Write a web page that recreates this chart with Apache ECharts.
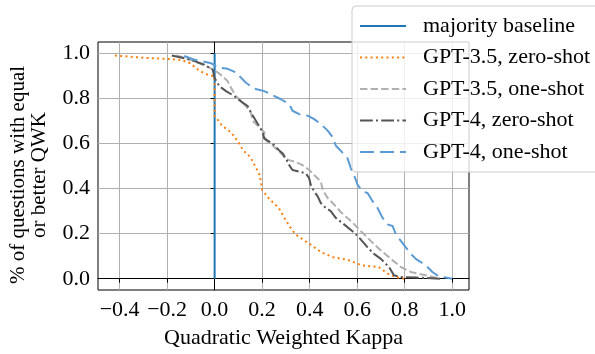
<!DOCTYPE html>
<html>
<head>
<meta charset="utf-8">
<script src="https://cdn.jsdelivr.net/npm/echarts@6/dist/echarts.min.js"></script>
<style>
    html, body {margin: 0; padding: 0; background: #fff;}
    #chart1 {width: 595px; height: 354px;}
</style>
</head>
<body>
<div id="chart1"></div>
<script>
    // x ticks / y ticks
    var xTicks = [-0.4, -0.2, 0.0, 0.2, 0.4, 0.6, 0.8, 1.0];
    var yTicks = [0.0, 0.2, 0.4, 0.6, 0.8, 1.0];

    // majority baseline (vertical line at kappa = 0)
    var baseX = [0, 0];
    var baseY = [0, 1];

    // GPT-3.5, zero-shot
    var gpt35ZeroX = [-0.42, -0.3, -0.2, -0.14, -0.1, -0.08, -0.05, -0.03, 0.0, 0.0, 0.01, 0.03, 0.06, 0.08, 0.1, 0.12, 0.15, 0.17, 0.19, 0.2, 0.23, 0.27, 0.31, 0.34, 0.4, 0.45, 0.5, 0.56, 0.62, 0.69, 0.73, 0.76, 0.8];
    var gpt35ZeroY = [0.99, 0.98, 0.975, 0.97, 0.955, 0.935, 0.915, 0.905, 0.898, 0.72, 0.71, 0.68, 0.657, 0.635, 0.606, 0.569, 0.54, 0.5, 0.46, 0.394, 0.354, 0.314, 0.241, 0.197, 0.154, 0.117, 0.095, 0.084, 0.059, 0.052, 0.022, 0.008, 0.0];

    // GPT-3.5, one-shot
    var gpt35OneX = [-0.16, -0.1, -0.05, -0.01, 0.006, 0.034, 0.055, 0.069, 0.09, 0.125, 0.153, 0.16, 0.182, 0.209, 0.216, 0.245, 0.265, 0.285, 0.3, 0.314, 0.335, 0.37, 0.398, 0.419, 0.447, 0.455, 0.476, 0.503, 0.532, 0.574, 0.615, 0.657, 0.7, 0.742, 0.784, 0.826, 0.868, 0.91, 0.95];
    var gpt35OneY = [0.99, 0.97, 0.95, 0.93, 0.92, 0.898, 0.876, 0.847, 0.81, 0.774, 0.737, 0.7, 0.679, 0.65, 0.613, 0.591, 0.57, 0.55, 0.53, 0.526, 0.52, 0.504, 0.482, 0.46, 0.431, 0.394, 0.358, 0.329, 0.295, 0.256, 0.212, 0.168, 0.125, 0.088, 0.052, 0.03, 0.02, 0.01, 0.0];

    // GPT-4, zero-shot
    var gpt4ZeroX = [-0.18, -0.1, -0.043, -0.008, 0.0, 0.02, 0.048, 0.083, 0.118, 0.139, 0.153, 0.182, 0.203, 0.209, 0.245, 0.272, 0.287, 0.3, 0.314, 0.328, 0.356, 0.384, 0.398, 0.405, 0.419, 0.434, 0.447, 0.468, 0.489, 0.51, 0.545, 0.587, 0.615, 0.644, 0.671, 0.7, 0.734, 0.755, 0.784, 0.85, 0.95];
    var gpt4ZeroY = [0.99, 0.971, 0.949, 0.927, 0.89, 0.854, 0.832, 0.81, 0.781, 0.766, 0.737, 0.686, 0.65, 0.621, 0.599, 0.569, 0.555, 0.533, 0.504, 0.482, 0.475, 0.467, 0.446, 0.416, 0.387, 0.365, 0.336, 0.314, 0.3, 0.27, 0.241, 0.205, 0.175, 0.139, 0.11, 0.088, 0.052, 0.015, 0.008, 0.005, 0.0];

    // GPT-4, one-shot
    var gpt4OneX = [-0.128, -0.085, -0.057, -0.015, 0.013, 0.055, 0.09, 0.132, 0.167, 0.209, 0.237, 0.279, 0.314, 0.328, 0.356, 0.392, 0.419, 0.447, 0.476, 0.497, 0.51, 0.53, 0.56, 0.574, 0.587, 0.602, 0.623, 0.644, 0.665, 0.686, 0.707, 0.728, 0.749, 0.763, 0.784, 0.805, 0.826, 0.847, 0.868, 0.896, 0.917, 0.938, 0.973, 1.0];
    var gpt4OneY = [0.988, 0.971, 0.966, 0.956, 0.937, 0.931, 0.915, 0.869, 0.843, 0.832, 0.818, 0.796, 0.774, 0.745, 0.73, 0.723, 0.708, 0.686, 0.657, 0.628, 0.591, 0.569, 0.533, 0.489, 0.46, 0.416, 0.387, 0.38, 0.344, 0.314, 0.27, 0.241, 0.234, 0.197, 0.168, 0.139, 0.11, 0.088, 0.074, 0.052, 0.03, 0.015, 0.005, 0.0];

    function pairs(xs, ys) {
        return xs.map(function (x, i) { return [x, ys[i]]; });
    }

    var font = '"Liberation Serif", "DejaVu Serif", serif';
    var fmt = function (v) { return v.toFixed(1).replace('-', '\u2212'); };

    var chart1 = echarts.init(document.getElementById('chart1'));

    var option = {
        animation: false,
        textStyle: {fontFamily: font},
        grid: {
            left: 98, right: 126, top: 42, bottom: 61,
            show: true,
            borderColor: '#000',
            borderWidth: 1
        },
        legend: {
            left: 352,
            top: 6,
            orient: 'vertical',
            itemWidth: 46,
            itemHeight: 14,
            itemGap: 9.5,
            padding: [9, 40, 9, 7],
            backgroundColor: 'rgba(255,255,255,0.8)',
            borderColor: '#ccc',
            borderWidth: 1,
            borderRadius: 4,
            itemStyle: {opacity: 0},
            textStyle: {
                fontFamily: font,
                fontSize: 22,
                color: '#000',
                padding: [0, 0, 0, 12]
            },
            data: ['majority baseline', 'GPT-3.5, zero-shot', 'GPT-3.5, one-shot', 'GPT-4, zero-shot', 'GPT-4, one-shot']
        },
        xAxis: {
            type: 'value',
            min: -0.491,
            max: 1.071,
            name: 'Quadratic Weighted Kappa',
            nameLocation: 'middle',
            nameGap: 37,
            nameTextStyle: {fontFamily: font, fontSize: 22, color: '#000'},
            axisLine: {show: true, lineStyle: {color: '#000', width: 1}},
            axisTick: {show: true, length: 4, inside: false, lineStyle: {color: '#000'}, customValues: xTicks},
            axisLabel: {fontFamily: font, fontSize: 22, color: '#000', margin: 9, formatter: fmt, customValues: xTicks},
            splitLine: {show: true, lineStyle: {color: '#b0b0b0', width: 1}}
        },
        yAxis: {
            type: 'value',
            min: -0.05,
            max: 1.05,
            name: '% of questions with equal\nor better QWK',
            nameLocation: 'middle',
            nameGap: 48,
            nameRotate: 90,
            nameTextStyle: {fontFamily: font, fontSize: 21, color: '#000', lineHeight: 21, padding: [0, 18, 0, 0]},
            axisLine: {show: true, lineStyle: {color: '#000', width: 1}},
            axisTick: {show: true, length: 4, inside: false, lineStyle: {color: '#000'}, customValues: yTicks},
            axisLabel: {fontFamily: font, fontSize: 22, color: '#000', margin: 8, formatter: fmt, customValues: yTicks},
            splitLine: {show: true, lineStyle: {color: '#b0b0b0', width: 1}}
        },
        series: [
            {
                name: 'majority baseline',
                type: 'line',
                symbol: 'none',
                data: pairs(baseX, baseY),
                lineStyle: {color: '#1f77b4', width: 2}
            },
            {
                name: 'GPT-3.5, zero-shot',
                type: 'line',
                symbol: 'none',
                data: pairs(gpt35ZeroX, gpt35ZeroY),
                lineStyle: {color: '#ff7f0e', width: 2, type: [2, 3.3]},
                itemStyle: {color: '#ff7f0e'}
            },
            {
                name: 'GPT-3.5, one-shot',
                type: 'line',
                symbol: 'none',
                data: pairs(gpt35OneX, gpt35OneY),
                lineStyle: {color: '#b0b0b0', width: 2, type: [7.4, 3.2]},
                itemStyle: {color: '#b0b0b0'}
            },
            {
                name: 'GPT-4, zero-shot',
                type: 'line',
                symbol: 'none',
                data: pairs(gpt4ZeroX, gpt4ZeroY),
                lineStyle: {color: '#555555', width: 2, type: [12.8, 3.2, 2, 3.2]},
                itemStyle: {color: '#555555'}
            },
            {
                name: 'GPT-4, one-shot',
                type: 'line',
                symbol: 'none',
                data: pairs(gpt4OneX, gpt4OneY),
                lineStyle: {color: '#5b9bd5', width: 2, type: [14, 6]},
                itemStyle: {color: '#5b9bd5'}
            }
        ]
    };

    chart1.setOption(option);
    window.addEventListener('resize', function () {
        chart1.resize();
    });
</script>
</body>
</html>
